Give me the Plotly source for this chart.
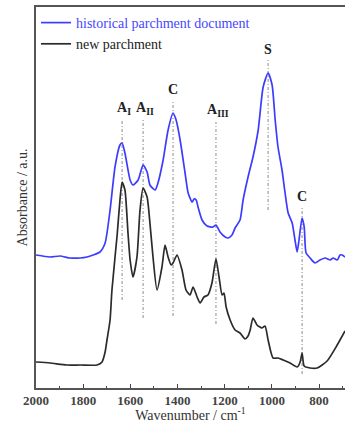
import re
import plotly.graph_objects as go

# Historical parchment document (blue) - wavenumber (cm-1) and absorbance (a.u.)
hist_wn = [2000, 1941, 1898, 1856, 1813, 1784, 1758, 1729, 1707, 1686, 1665, 1644, 1635, 1623,
           1601, 1589, 1567, 1546, 1529, 1517, 1495, 1483, 1461, 1440, 1419, 1406, 1389, 1368,
           1355, 1338, 1330, 1321, 1313, 1296, 1275, 1249, 1237, 1220, 1198, 1186, 1169, 1156,
           1135, 1122, 1101, 1080, 1058, 1037, 1016, 999, 986, 974, 957, 944, 931, 914, 902,
           893, 885, 872, 863, 855, 838, 817, 796, 774, 753, 740, 723, 711, 702, 690]
hist_abs = [1.33, 1.31, 1.32, 1.30, 1.30, 1.31, 1.33, 1.36, 1.45, 1.78, 2.21, 2.43, 2.45, 2.35,
            2.08, 2.03, 2.08, 2.23, 2.16, 2.03, 1.98, 2.05, 2.28, 2.58, 2.75, 2.68, 2.48, 2.15,
            1.95, 1.86, 1.89, 1.88, 1.81, 1.68, 1.62, 1.61, 1.63, 1.56, 1.51, 1.50, 1.53, 1.60,
            1.68, 1.88, 2.11, 2.31, 2.58, 3.01, 3.15, 3.03, 2.68, 2.41, 2.18, 1.95, 1.75, 1.65, 1.48,
            1.36, 1.48, 1.70, 1.61, 1.35, 1.30, 1.25, 1.28, 1.30, 1.28, 1.30, 1.28, 1.33, 1.33, 1.31]

# New parchment (black)
new_wn = [2000, 1941, 1869, 1813, 1741, 1720, 1707, 1699, 1686, 1678, 1656, 1644, 1635, 1623,
          1610, 1601, 1589, 1572, 1559, 1546, 1529, 1517, 1504, 1487, 1466, 1453, 1440, 1427,
          1419, 1402, 1381, 1364, 1347, 1334, 1317, 1304, 1288, 1271, 1254, 1237, 1224, 1211,
          1203, 1194, 1177, 1156, 1135, 1114, 1101, 1092, 1080, 1063, 1042, 1029, 1016, 995,
          974, 952, 923, 893, 880, 872, 863, 838, 808, 766, 723, 690]
new_abs = [0.26, 0.25, 0.23, 0.23, 0.23, 0.26, 0.36, 0.48, 0.68, 0.98, 1.53, 1.88, 2.06, 1.98,
           1.55, 1.28, 1.11, 1.31, 1.78, 2.00, 1.91, 1.65, 1.31, 0.98, 1.21, 1.43, 1.31, 1.23,
           1.25, 1.33, 1.18, 0.98, 0.93, 1.01, 0.91, 0.85, 0.91, 0.93, 1.05, 1.29, 1.11, 0.93,
           0.95, 0.81, 0.68, 0.58, 0.55, 0.49, 0.52, 0.58, 0.70, 0.63, 0.60, 0.62, 0.48, 0.30,
           0.30, 0.28, 0.25, 0.21, 0.26, 0.35, 0.22, 0.20, 0.20, 0.27, 0.43, 0.57]

# Band assignments
band_labels = ["A<sub>I</sub>", "A<sub>II</sub>", "C", "A<sub>III</sub>", "S", "C"]
band_wn = [1635, 1546, 1419, 1237, 1016, 872]
band_top = [2.68, 2.68, 2.88, 2.66, 3.28, 1.81]
band_bottom = [0.88, 0.70, 0.72, 0.64, 1.78, 0.14]

x_ticks = [2000, 1800, 1600, 1400, 1200, 1000, 800]

serif = "Liberation Serif, Times New Roman, serif"
blue = "#3c3cff"
black = "#2b2b2b"

fig = go.Figure()
fig.add_trace(go.Scatter(
    x=hist_wn, y=hist_abs, mode="lines",
    name='<span style="color:#4646ff">historical parchment document</span>',
    line=dict(color=blue, width=1.7, shape="spline", smoothing=0.6)))
fig.add_trace(go.Scatter(
    x=new_wn, y=new_abs, mode="lines",
    name="new parchment",
    line=dict(color=black, width=1.7, shape="spline", smoothing=0.6)))

for lab, w, top, bot in zip(band_labels, band_wn, band_top, band_bottom):
    fig.add_shape(type="line", x0=w, x1=w, y0=bot, y1=top, xref="x", yref="y",
                  line=dict(color="#8a8a8a", width=1, dash="3px,2px,1px,2px"), layer="below")
    fig.add_annotation(x=w, y=top, text="<b>" + lab + "</b>", showarrow=False,
                       yanchor="bottom", yshift=1, xshift=2 if "sub" in lab else 0,
                       font=dict(family=serif, size=14, color="#222"))

fig.update_layout(
    width=345, height=423,
    margin=dict(l=36, r=0, t=7, b=35),
    paper_bgcolor="white", plot_bgcolor="white",
    showlegend=True,
    legend=dict(x=0.0, y=1.0, xanchor="left", yanchor="top",
                bgcolor="rgba(0,0,0,0)", borderwidth=0,
                font=dict(family=serif, size=14, color="#222"),
                tracegroupgap=0, itemwidth=30),
    xaxis=dict(range=[2000, 690], tickvals=x_ticks, ticktext=[str(t) for t in x_ticks],
               ticks="inside", ticklen=4, tickcolor="#444", tickwidth=1,
               minor=dict(dtick=100, ticks="inside", ticklen=2, tickcolor="#444"),
               showline=True, linecolor="#555", linewidth=1.5, mirror=True,
               showgrid=False, zeroline=False,
               tickfont=dict(family=serif, size=13, color="#444", weight="bold"),
               title=dict(text="Wavenumber / cm<sup>-1</sup>", standoff=2,
                          font=dict(family=serif, size=14, color="#333"))),
    yaxis=dict(range=[0, 3.81], showticklabels=False, ticks="",
               showline=True, linecolor="#555", linewidth=1.5, mirror=False,
               showgrid=False, zeroline=False,
               title=dict(text="Absorbance / a.u.", standoff=3,
                          font=dict(family=serif, size=14, color="#333"))),
)

fig.write_html("out.html", config={"displayModeBar": False})

# remove the browser's default page margin so the figure fills the window
with open("out.html", "r", encoding="utf-8") as f:
    html = f.read()
html = re.sub(r"<body>", '<body style="margin:0;padding:0;overflow:hidden">', html, count=1)
with open("out.html", "w", encoding="utf-8") as f:
    f.write(html)
